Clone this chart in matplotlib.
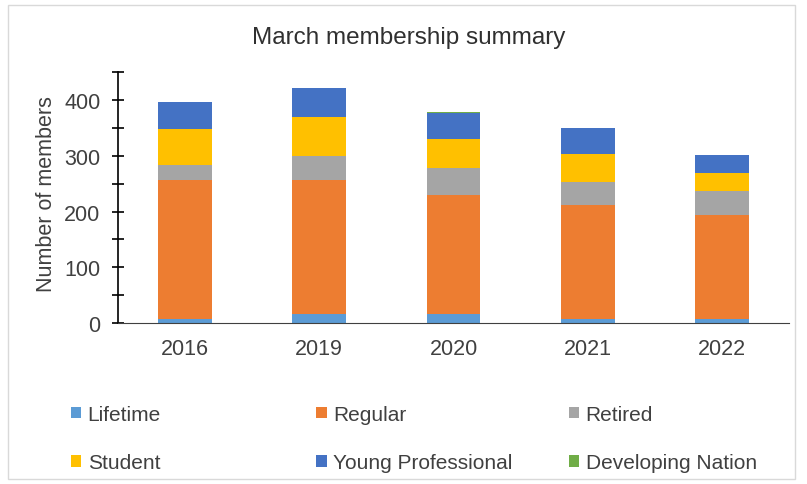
import numpy as np
import matplotlib.pyplot as plt
from matplotlib.patches import Patch, Rectangle
from matplotlib.ticker import MultipleLocator

plt.rcParams['font.family'] = ['Liberation Sans', 'DejaVu Sans']

years = ['2016', '2019', '2020', '2021', '2022']
series = ['Lifetime', 'Regular', 'Retired', 'Student', 'Young Professional', 'Developing Nation']
lifetime = [8, 17, 17, 8, 7]
regular = [249, 240, 213, 204, 186]
retired = [27, 42, 48, 41, 44]
student = [64, 70, 52, 50, 33]
young_prof = [48, 53, 46, 47, 32]
developing = [0, 0, 2, 0, 0]
colors = ['#5B9BD5', '#ED7D31', '#A5A5A5', '#FFC000', '#4472C4', '#70AD47']

data = [lifetime, regular, retired, student, young_prof, developing]

fig = plt.figure(figsize=(8.07, 4.85), dpi=100)
fig.patches.append(Rectangle((0.010, 0.010), 0.975, 0.978, transform=fig.transFigure,
                             fill=False, edgecolor='#D9D9D9', linewidth=1))
ax = fig.add_axes([0.146, 0.332, 0.832, 0.517])

x = np.arange(len(years))
bottom = np.zeros(len(years))
for vals, c in zip(data, colors):
    ax.bar(x, vals, width=0.4, bottom=bottom, color=c)
    bottom += np.array(vals)

ax.set_xlim(-0.5, len(years) - 0.5)
ax.set_ylim(0, 450)
ax.set_xticks(x)
ax.set_xticklabels(years)
ax.yaxis.set_major_locator(MultipleLocator(100))
ax.yaxis.set_minor_locator(MultipleLocator(50))
ax.tick_params(axis='y', which='both', direction='inout', length=9, width=1.2,
               colors='black', labelcolor='#404040', labelsize=15.5, pad=8)
ax.tick_params(axis='x', length=0, labelcolor='#404040', labelsize=15.5, pad=11)
for s in ['top', 'right']:
    ax.spines[s].set_visible(False)
ax.spines['left'].set_linewidth(1.2)
ax.spines['bottom'].set_color('#404040')
ax.set_ylabel('Number of members', fontsize=15.5, color='#404040')
ax.yaxis.set_label_coords(-0.09, 0.52)
fig.text(0.507, 0.922, 'March membership summary', ha='center', va='center',
         fontsize=17.5, color='#303030')

handles = [Patch(facecolor=c) for c in colors]
cols = [(0, 3), (1, 4), (2, 5)]
xpos = [0.088, 0.392, 0.705]
for (a, b), xp in zip(cols, xpos):
    fig.legend([handles[a], handles[b]], [series[a], series[b]], loc='upper left',
               bbox_to_anchor=(xp, 0.163), frameon=False, fontsize=15,
               handlelength=0.5, handleheight=0.5, handletextpad=0.3,
               labelspacing=1.4, labelcolor='#404040', borderaxespad=0,
               borderpad=0)

fig.savefig('out.png', dpi=100)
